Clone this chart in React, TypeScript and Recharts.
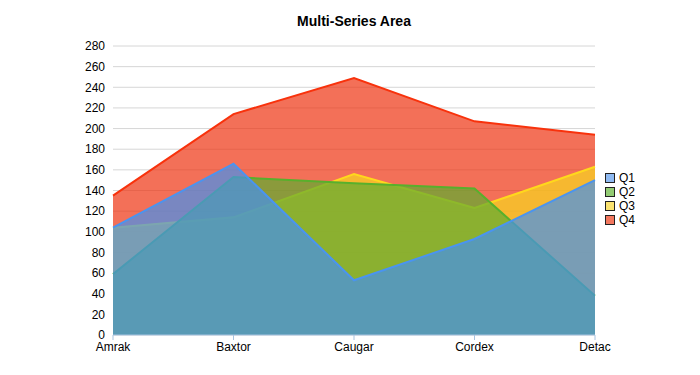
import React from 'react';
import { AreaChart, Area, XAxis, YAxis, CartesianGrid } from 'recharts';

const categories = ['Amrak', 'Baxtor', 'Caugar', 'Cordex', 'Detac'];
const q1 = [104, 166, 53, 93, 150];
const q2 = [59, 153, 147, 142, 38];
const q3 = [104, 114, 156, 123, 163];
const q4 = [135, 214, 249, 207, 194];
const yTicks = [0, 20, 40, 60, 80, 100, 120, 140, 160, 180, 200, 220, 240, 260, 280];

const series = [
  { key: 'Q1', stroke: '#4a94f0', fill: '#4592ee', swatch: '#8fbaf2' },
  { key: 'Q2', stroke: '#58b02c', fill: '#5ead30', swatch: '#93cc74' },
  { key: 'Q3', stroke: '#ffd81c', fill: '#f7d71f', swatch: '#fbe36f' },
  { key: 'Q4', stroke: '#f8320c', fill: '#ee3311', swatch: '#f2775e' },
];

const data = categories.map((name, i) => ({
  name,
  Q1: q1[i],
  Q2: q2[i],
  Q3: q3[i],
  Q4: q4[i],
}));

const font = '"Liberation Sans", Arial, sans-serif';

// legend lists Q1..Q4 top to bottom, even though Q1 is drawn last (on top).
// kept outside the chart so it does not eat into the plot area
const LegendBox = () => (
  <div style={{ position: 'absolute', left: 605, top: 171, fontSize: 12, color: '#000' }}>
    {series.map((s) => (
      <div key={s.key} style={{ display: 'flex', alignItems: 'center', height: 14 }}>
        <span
          style={{
            width: 8,
            height: 8,
            background: s.swatch,
            border: '1px solid #222',
            marginRight: 4,
            display: 'inline-block',
          }}
        />
        <span>{s.key}</span>
      </div>
    ))}
  </div>
);

export default function App() {
  const drawOrder = [...series].reverse();
  return (
    <div style={{ position: 'absolute', left: 0, top: 0, width: 700, height: 375, background: '#fff', fontFamily: font }}>
      <div
        style={{
          position: 'absolute',
          top: 13,
          left: 113,
          width: 482,
          textAlign: 'center',
          fontWeight: 'bold',
          fontSize: 14,
          color: '#000',
        }}
      >
        Multi-Series Area
      </div>
      <AreaChart width={700} height={375} data={data} margin={{ top: 46, right: 105, left: 53, bottom: 10 }}>
        <CartesianGrid vertical={false} stroke="#d6d6d6" />
        <XAxis
          dataKey="name"
          tick={{ fill: '#000', fontSize: 12 }}
          stroke="#a9c4e0"
          tickSize={5}
          tickMargin={2}
        />
        <YAxis
          domain={[0, 280]}
          ticks={yTicks}
          interval={0}
          width={60}
          axisLine={false}
          tickLine={false}
          tick={{ fill: '#000', fontSize: 12 }}
        />
        {drawOrder.map((s) => (
          <Area
            key={s.key}
            type="linear"
            dataKey={s.key}
            stroke={s.stroke}
            strokeWidth={2}
            fill={s.fill}
            fillOpacity={0.7}
            dot={false}
            activeDot={false}
            isAnimationActive={false}
          />
        ))}
      </AreaChart>
      <LegendBox />
    </div>
  );
}
